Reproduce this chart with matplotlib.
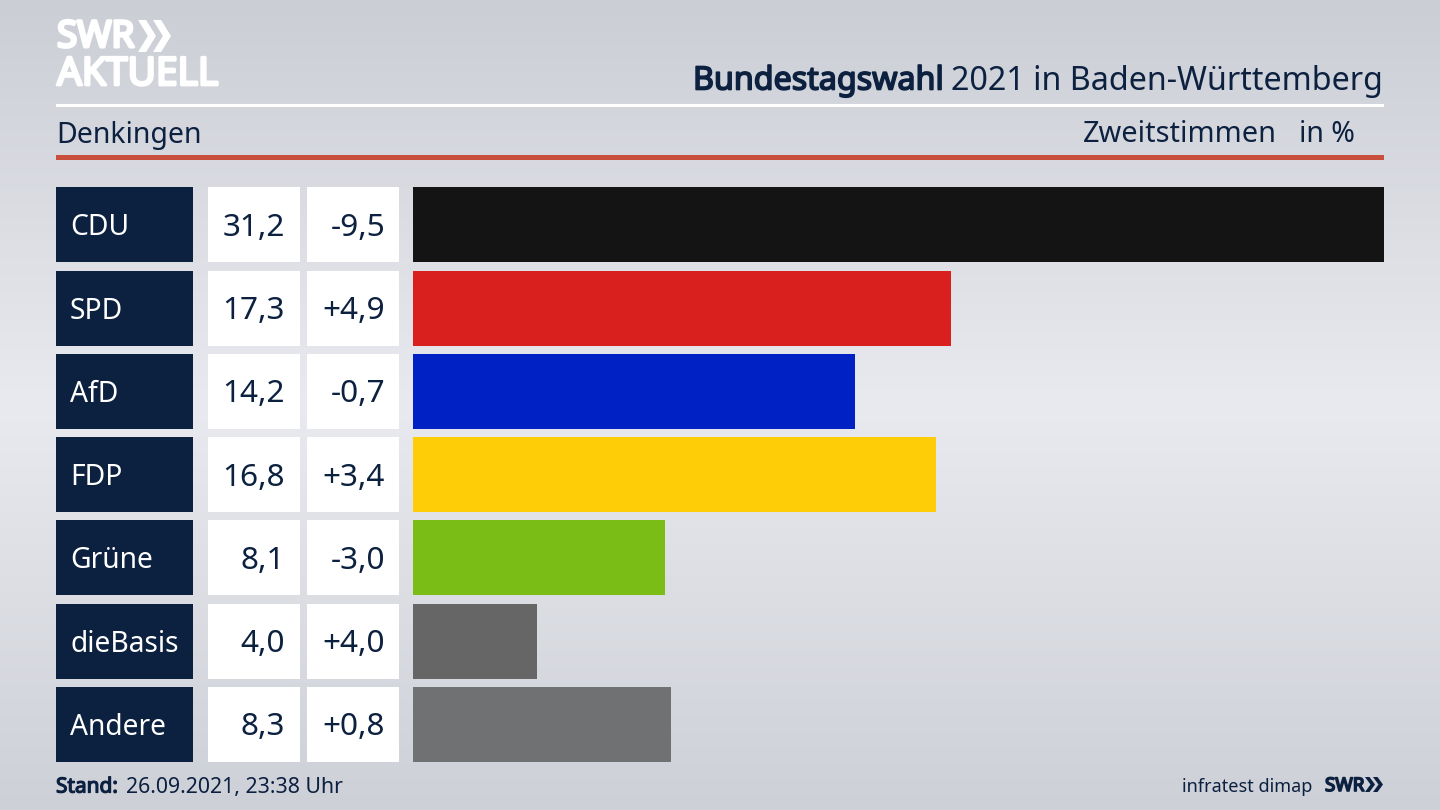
import numpy as np
import matplotlib
matplotlib.use("Agg")
import matplotlib.pyplot as plt
from matplotlib.patches import Rectangle, Polygon
from matplotlib.colors import LinearSegmentedColormap
import matplotlib.patheffects as pe

plt.rcParams['font.family'] = ['Noto Sans', 'DejaVu Sans']

parties = ['CDU', 'SPD', 'AfD', 'FDP', 'Grüne', 'dieBasis', 'Andere']
shares = [31.2, 17.3, 14.2, 16.8, 8.1, 4.0, 8.3]
changes = [-9.5, 4.9, -0.7, 3.4, -3.0, 4.0, 0.8]
colors = ['#141414', '#d9201e', '#0022c4', '#ffcc08', '#7abd17', '#666666', '#707173']

NAVY = '#0c2040'
W, H = 1440, 810

ROW_PITCH = 83.25
BAR_H = 75
FIRST_CENTER = 224.8


def de(val, sign=False):
    fmt = f"{val:+.1f}" if sign else f"{val:.1f}"
    return fmt.replace('.', ',')


def chevrons(ax, x, y, h, w, gap, color):
    # two arrow heads of the SWR logo
    for i in range(2):
        x0 = x + i * gap
        pts = [(x0, y), (x0 + w * 0.45, y), (x0 + w, y + h / 2),
               (x0 + w * 0.45, y + h), (x0, y + h), (x0 + w * 0.55, y + h / 2)]
        ax.add_patch(Polygon(pts, closed=True, fc=color, ec='none'))


def heavy(txt, width, color):
    # the sans here has no bold cut, so thicken the strokes
    txt.set_path_effects([pe.withStroke(linewidth=width, foreground=color)])


fig = plt.figure(figsize=(14.4, 8.1), dpi=100)

# pixel canvas for the background and everything that is not a bar
ax = fig.add_axes([0, 0, 1, 1])
ax.set_xlim(0, W)
ax.set_ylim(H, 0)
ax.axis('off')

bg = LinearSegmentedColormap.from_list('bg', ['#cbced5', '#e9eaef', '#cdd0d7'])
ax.imshow(np.linspace(0, 1, 256).reshape(-1, 1), cmap=bg, aspect='auto',
          extent=(0, W, H, 0), zorder=0)

# logo
heavy(ax.text(57, 38, 'SWR', color='white', fontsize=26.5, va='center', ha='left'), 2.2, 'white')
chevrons(ax, 138, 20, 32, 18, 15, 'white')
heavy(ax.text(57, 75, 'AKTUELL', color='white', fontsize=28, va='center', ha='left'), 2.0, 'white')

# header
ax.add_patch(Rectangle((56, 104), 1328, 3, fc='white', ec='none'))
ax.add_patch(Rectangle((56, 155), 1328, 5, fc='#c94f3d', ec='none'))
heavy(ax.text(944, 81, 'Bundestagswahl', color=NAVY, fontsize=23.2, va='center', ha='right'), 1.2, NAVY)
ax.text(1383, 81, '2021 in Baden-Württemberg', color=NAVY, fontsize=23.2, va='center', ha='right')
ax.text(56, 135, 'Denkingen', color=NAVY, fontsize=20.5, va='center', ha='left')
ax.text(1277, 135, 'Zweitstimmen', color=NAVY, fontsize=20.8, va='center', ha='right')
ax.text(1355, 135, 'in %', color=NAVY, fontsize=20.5, va='center', ha='right')

# table cells
for i, party in enumerate(parties):
    yc = FIRST_CENTER + i * ROW_PITCH
    top = yc - BAR_H / 2
    ax.add_patch(Rectangle((56, top), 137, BAR_H, fc=NAVY, ec='none'))
    ax.add_patch(Rectangle((208, top), 92, BAR_H, fc='white', ec='none'))
    ax.add_patch(Rectangle((307, top), 92, BAR_H, fc='white', ec='none'))
    ax.text(70, yc + 3, party, color='white', fontsize=20.3, va='center', ha='left')
    ax.text(285, yc + 3, de(shares[i]), color=NAVY, fontsize=22.7, va='center', ha='right')
    ax.text(385, yc + 3, de(changes[i], sign=True), color=NAVY, fontsize=22.7, va='center', ha='right')

# footer
heavy(ax.text(56, 787, 'Stand:', color=NAVY, fontsize=15, va='center', ha='left'), 0.9, NAVY)
ax.text(126, 787, '26.09.2021, 23:38 Uhr', color=NAVY, fontsize=15.3, va='center', ha='left')
ax.text(1312, 787, 'infratest dimap', color=NAVY, fontsize=13, va='center', ha='right')
heavy(ax.text(1325, 786, 'SWR', color=NAVY, fontsize=13.5, va='center', ha='left'), 1.2, NAVY)
chevrons(ax, 1365, 777, 15, 10, 8, NAVY)

# bars, on their own axes so the length comes from the percent scale
bar_top = FIRST_CENTER - ROW_PITCH / 2
bar_bottom = FIRST_CENTER + 6.5 * ROW_PITCH
axb = fig.add_axes([413 / W, 1 - bar_bottom / H, (1384 - 413) / W, (bar_bottom - bar_top) / H])
axb.patch.set_alpha(0)
axb.barh(range(len(parties)), shares, height=BAR_H / ROW_PITCH, color=colors)
axb.set_xlim(0, max(shares))
axb.set_ylim(len(parties) - 0.5, -0.5)
axb.axis('off')

fig.savefig('out.png', dpi=100)
